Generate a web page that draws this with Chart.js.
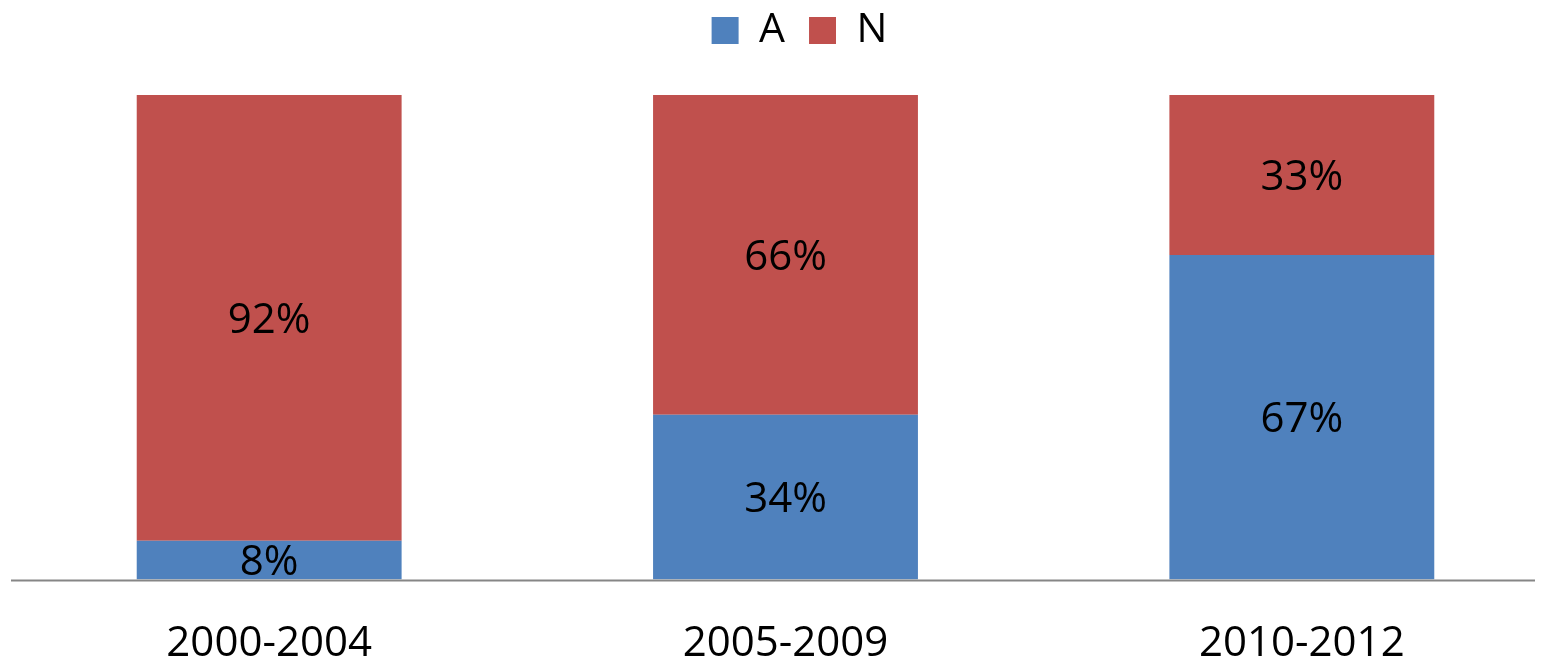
<!DOCTYPE html>
<html>
<head>
<meta charset="utf-8">
<script src="https://cdn.jsdelivr.net/npm/chart.js@4/dist/chart.umd.min.js"></script>
<style>
html,body{margin:0;padding:0;background:#fff;overflow:hidden;}
#wrap{width:1546px;height:659px;position:relative;overflow:hidden;}
</style>
</head>
<body>
<div id="wrap"><canvas id="c" width="1560" height="659"></canvas></div>
<script>
const categories = ["2000-2004", "2005-2009", "2010-2012"];
const seriesA = [8, 34, 67];
const seriesN = [92, 66, 33];
const seriesNames = ["A", "N"];

const FONT = "'Open Sans', 'Liberation Sans', sans-serif";

const labelPlugin = {
  id: 'barLabels',
  afterDatasetsDraw(chart) {
    const ctx = chart.ctx;
    ctx.save();
    ctx.font = "42px " + FONT;
    ctx.fillStyle = '#000';
    ctx.textAlign = 'center';
    ctx.textBaseline = 'middle';
    chart.data.datasets.forEach((ds, di) => {
      const meta = chart.getDatasetMeta(di);
      meta.data.forEach((el, i) => {
        const p = el.getProps(['x', 'y', 'base'], true);
        ctx.fillText(ds.data[i] + '%', p.x, (p.y + p.base) / 2 + 3);
      });
    });
    ctx.restore();
  }
};

const legendMargin = {
  id: 'legendMargin',
  beforeInit(chart) {
    const orig = chart.legend.fit;
    chart.legend.fit = function () {
      orig.bind(chart.legend)();
      this.height += 34;
    };
  },
  afterLayout(chart) {
    chart.legend.left += 14;
    chart.legend.right += 14;
  }
};

const baseLine = {
  id: 'baseLine',
  afterDatasetsDraw(chart) {
    const ctx = chart.ctx;
    const a = chart.chartArea;
    ctx.save();
    ctx.strokeStyle = '#868686';
    ctx.lineWidth = 2;
    ctx.beginPath();
    ctx.moveTo(a.left, a.bottom + 1);
    ctx.lineTo(1535, a.bottom + 1);
    ctx.stroke();
    ctx.restore();
  }
};

new Chart(document.getElementById('c'), {
  type: 'bar',
  data: {
    labels: categories,
    datasets: [
      { label: seriesNames[0], data: seriesA, backgroundColor: '#4F81BD', borderWidth: 0 },
      { label: seriesNames[1], data: seriesN, backgroundColor: '#C0504D', borderWidth: 0 }
    ]
  },
  options: {
    responsive: false,
    animation: false,
    layout: { padding: { left: 11, right: 0, top: -14, bottom: -49 } },
    datasets: { bar: { categoryPercentage: 1, barPercentage: 0.513 } },
    plugins: {
      legend: {
        position: 'top',
        labels: {
          font: { size: 41, family: FONT },
          color: '#000',
          boxWidth: 27,
          boxHeight: 27,
          padding: 24
        }
      },
      tooltip: { enabled: false }
    },
    scales: {
      x: {
        stacked: true,
        grid: { display: false, drawTicks: false },
        border: { display: false },
        ticks: { font: { size: 42, family: FONT }, color: '#000', padding: 39 }
      },
      y: {
        stacked: true,
        display: false,
        min: 0,
        max: 100
      }
    }
  },
  plugins: [labelPlugin, legendMargin, baseLine]
});
</script>
</body>
</html>
